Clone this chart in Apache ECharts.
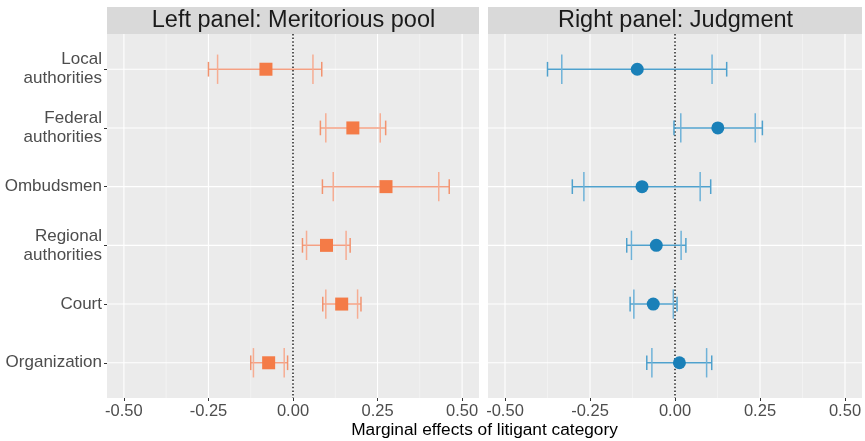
<!DOCTYPE html>
<html>
<head>
<meta charset="utf-8">
<script src="https://cdn.jsdelivr.net/npm/echarts@6/dist/echarts.min.js"></script>
<style>html,body{margin:0;padding:0;background:#fff}#c{width:865px;height:441px}</style>
</head>
<body>
<div id="c"></div>
<script>
const categories = ['Local\nauthorities','Federal\nauthorities','Ombudsmen','Regional\nauthorities','Court','Organization'];
const xTicks = [-0.5, -0.25, 0, 0.25, 0.5];
const xMinor = [-0.375, -0.125, 0.125, 0.375];
const catIdx = [0, 1, 2, 3, 4, 5];

// Left panel: Meritorious pool
const leftEst  = [-0.080, 0.177, 0.275, 0.099, 0.144, -0.072];
const leftLo95 = [-0.250, 0.081, 0.087, 0.028, 0.088, -0.125];
const leftLo90 = [-0.223, 0.097, 0.119, 0.040, 0.097, -0.117];
const leftHi90 = [0.059, 0.258, 0.431, 0.157, 0.191, -0.026];
const leftHi95 = [0.085, 0.274, 0.462, 0.169, 0.201, -0.016];

// Right panel: Judgment
const rightEst  = [-0.111, 0.126, -0.097, -0.055, -0.064, 0.013];
const rightLo95 = [-0.375, -0.003, -0.302, -0.142, -0.132, -0.083];
const rightLo90 = [-0.333, 0.017, -0.268, -0.128, -0.121, -0.068];
const rightHi90 = [0.109, 0.236, 0.074, 0.018, -0.005, 0.093];
const rightHi95 = [0.152, 0.257, 0.105, 0.032, 0.006, 0.108];

const FONT = '"Liberation Sans", Arial, Helvetica, sans-serif';
const Y_MIN = -0.6, Y_MAX = 5.6, X_MIN = -0.55, X_MAX = 0.55;

function gridLineSeries(k) {
  const data = [];
  xTicks.forEach(v => data.push([0, v, 1]));
  xMinor.forEach(v => data.push([0, v, 0]));
  catIdx.forEach(v => data.push([1, v, 1]));
  return {
    type: 'custom', xAxisIndex: k, yAxisIndex: k, z: 1, silent: true,
    data: data,
    renderItem: function (params, api) {
      const dir = api.value(0), v = api.value(1), major = api.value(2);
      let a, b;
      if (dir === 0) { a = api.coord([v, Y_MIN]); b = api.coord([v, Y_MAX]); }
      else { a = api.coord([X_MIN, v]); b = api.coord([X_MAX, v]); }
      return {
        type: 'line',
        shape: { x1: a[0], y1: a[1], x2: b[0], y2: b[1] },
        style: { stroke: major ? '#ffffff' : '#f6f6f6', lineWidth: major ? 1.1 : 0.6 }
      };
    }
  };
}

function zeroLineSeries(k) {
  return {
    type: 'custom', xAxisIndex: k, yAxisIndex: k, z: 2, silent: true,
    data: [[0]],
    renderItem: function (params, api) {
      const a = api.coord([api.value(0), Y_MIN]), b = api.coord([api.value(0), Y_MAX]);
      return {
        type: 'line',
        shape: { x1: a[0], y1: a[1], x2: b[0], y2: b[1] },
        style: { stroke: '#3a3a3a', lineWidth: 1.7, lineDash: [1.5, 2.1] }
      };
    }
  };
}

function errSeries(k, lo95, lo90, hi90, hi95, cLine, cOuter, cInner) {
  return {
    type: 'custom', xAxisIndex: k, yAxisIndex: k, z: 3, silent: true,
    data: catIdx.map(i => [i, lo95[i], lo90[i], hi90[i], hi95[i]]),
    encode: { x: [1, 2, 3, 4], y: 0 },
    renderItem: function (params, api) {
      const i = api.value(0);
      const unit = api.size([0, 1])[1];
      const hOut = unit * 0.125, hIn = unit * 0.25;
      const p95a = api.coord([api.value(1), i]);
      const p90a = api.coord([api.value(2), i]);
      const p90b = api.coord([api.value(3), i]);
      const p95b = api.coord([api.value(4), i]);
      const y = p95a[1];
      const vline = (x, h, c) => ({
        type: 'line', shape: { x1: x, y1: y - h, x2: x, y2: y + h },
        style: { stroke: c, lineWidth: 1.5 }
      });
      return {
        type: 'group',
        children: [
          { type: 'line', shape: { x1: p95a[0], y1: y, x2: p95b[0], y2: y }, style: { stroke: cLine, lineWidth: 1.5 } },
          vline(p95a[0], hOut, cOuter), vline(p95b[0], hOut, cOuter),
          vline(p90a[0], hIn, cInner), vline(p90b[0], hIn, cInner)
        ]
      };
    }
  };
}

const xAxisBase = {
  type: 'value', min: X_MIN, max: X_MAX,
  axisLine: { show: false, onZero: false },
  axisTick: { show: true, customValues: xTicks, length: 3, lineStyle: { color: '#333333', width: 1 } },
  axisLabel: { customValues: xTicks, formatter: v => Number(v).toFixed(2), fontSize: 16.5, color: '#4d4d4d', fontFamily: FONT, margin: 5 },
  splitLine: { show: false }, minorSplitLine: { show: false }
};

const option = {
  animation: false,
  backgroundColor: '#ffffff',
  grid: [
    { left: 107, top: 34, width: 372, height: 364, show: true, backgroundColor: '#ebebeb', borderWidth: 0, containLabel: false, outerBoundsMode: 'none' },
    { left: 488, top: 34, width: 374, height: 364, show: true, backgroundColor: '#ebebeb', borderWidth: 0, containLabel: false, outerBoundsMode: 'none' }
  ],
  xAxis: [
    Object.assign({ gridIndex: 0 }, xAxisBase),
    Object.assign({ gridIndex: 1 }, xAxisBase)
  ],
  yAxis: [
    {
      gridIndex: 0, type: 'value', min: Y_MIN, max: Y_MAX, inverse: true,
      axisLine: { show: false, onZero: false },
      axisTick: { show: true, customValues: catIdx, length: 3, lineStyle: { color: '#333333', width: 1 } },
      axisLabel: { customValues: catIdx, formatter: v => categories[Math.round(v)], fontSize: 17, lineHeight: 19, color: '#4d4d4d', fontFamily: FONT, margin: 5, align: 'right' },
      splitLine: { show: false }
    },
    {
      gridIndex: 1, type: 'value', min: Y_MIN, max: Y_MAX, inverse: true,
      axisLine: { show: false, onZero: false }, axisTick: { show: false }, axisLabel: { show: false }, splitLine: { show: false }
    }
  ],
  graphic: [
    { type: 'rect', shape: { x: 107, y: 7, width: 372, height: 27 }, style: { fill: '#d9d9d9' }, silent: true },
    { type: 'rect', shape: { x: 488, y: 7, width: 374, height: 27 }, style: { fill: '#d9d9d9' }, silent: true },
    { type: 'text', x: 293.5, y: 20.5, style: { text: 'Left panel: Meritorious pool', fontSize: 23.5, fontFamily: FONT, fill: '#1a1a1a', align: 'center', verticalAlign: 'middle' }, silent: true },
    { type: 'text', x: 675.5, y: 20.5, style: { text: 'Right panel: Judgment', fontSize: 23.5, fontFamily: FONT, fill: '#1a1a1a', align: 'center', verticalAlign: 'middle' }, silent: true },
    { type: 'text', x: 484.5, y: 430, style: { text: 'Marginal effects of litigant category', fontSize: 17.3, fontFamily: FONT, fill: '#000000', align: 'center', verticalAlign: 'middle' }, silent: true }
  ],
  series: [
    gridLineSeries(0), gridLineSeries(1),
    zeroLineSeries(0), zeroLineSeries(1),
    errSeries(0, leftLo95, leftLo90, leftHi90, leftHi95, '#f4a083', '#f2936f', '#f6ad93'),
    errSeries(1, rightLo95, rightLo90, rightHi90, rightHi95, '#4fa1cd', '#4fa1cd', '#6fb2d8'),
    {
      type: 'scatter', xAxisIndex: 0, yAxisIndex: 0, z: 4, silent: true,
      symbol: 'rect', symbolSize: 13,
      itemStyle: { color: '#f47b47', opacity: 1 },
      data: leftEst.map((v, i) => [v, i])
    },
    {
      type: 'scatter', xAxisIndex: 1, yAxisIndex: 1, z: 4, silent: true,
      symbol: 'circle', symbolSize: 13,
      itemStyle: { color: '#1a80b8', opacity: 1 },
      data: rightEst.map((v, i) => [v, i])
    }
  ]
};

const chart = echarts.init(document.getElementById('c'), null, { renderer: 'canvas' });
chart.setOption(option);
</script>
</body>
</html>
